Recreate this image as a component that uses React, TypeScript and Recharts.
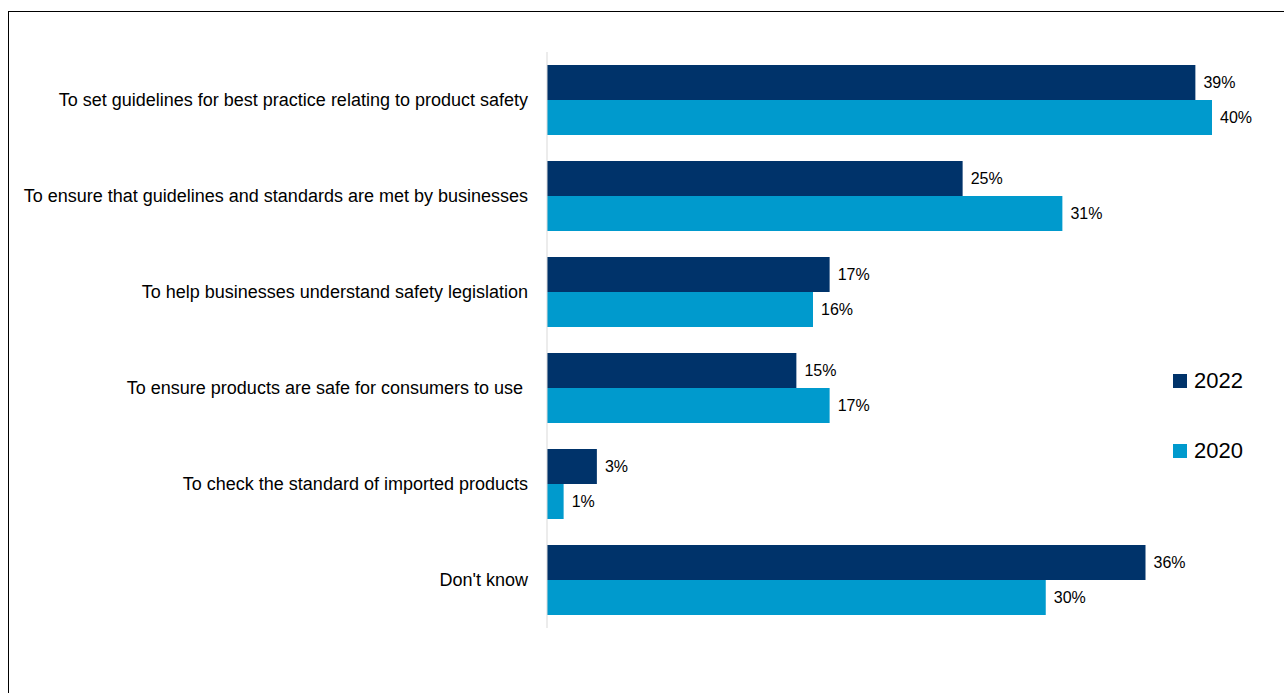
import { BarChart, Bar, XAxis, YAxis, LabelList } from "recharts";

const categories = [
  "To set guidelines for best practice relating to product safety",
  "To ensure that guidelines and standards are met by businesses",
  "To help businesses understand safety legislation",
  "To ensure products are safe for consumers to use ",
  "To check the standard of imported products",
  "Don't know",
];
const values2022 = [39, 25, 17, 15, 3, 36];
const values2020 = [40, 31, 16, 17, 1, 30];

const SERIES = [
  { key: "y2022", label: "2022", color: "#00336A" },
  { key: "y2020", label: "2020", color: "#009ACD" },
];

const FONT = "'Liberation Sans', Arial, sans-serif";

const data = categories.map((name, i) => ({
  name,
  y2022: values2022[i],
  y2020: values2020[i],
}));

function CategoryTick({ x, y, payload }: any) {
  return (
    <text
      x={x - 11}
      y={y}
      dy={6}
      textAnchor="end"
      fill="#000"
      fontSize={18}
      fontFamily={FONT}
      style={{ whiteSpace: "pre" }}
    >
      {payload.value}
    </text>
  );
}

function YearLegend() {
  return (
    <div style={{ position: "absolute", left: 1173, top: 368, fontFamily: FONT }}>
      {SERIES.map((s, i) => (
        <div
          key={s.key}
          style={{
            display: "flex",
            alignItems: "center",
            height: 26,
            marginBottom: i === 0 ? 44 : 0,
          }}
        >
          <span
            style={{ width: 14, height: 14, background: s.color, marginRight: 7 }}
          />
          <span style={{ fontSize: 22, color: "#000" }}>{s.label}</span>
        </div>
      ))}
    </div>
  );
}

export default function App() {
  return (
    <div
      style={{
        position: "fixed",
        left: 0,
        top: 0,
        width: 1284,
        height: 693,
        background: "#fff",
        overflow: "hidden",
      }}
    >
      <div
        style={{
          position: "absolute",
          left: 8,
          top: 11,
          width: 1400,
          height: 800,
          border: "1.5px solid #000",
        }}
      />
      <div style={{ position: "absolute", left: 0, top: 0 }}>
        <BarChart
          width={1284}
          height={693}
          data={data}
          layout="vertical"
          margin={{ top: 52, right: 72, bottom: 65, left: 0 }}
          barCategoryGap={13}
          barGap={0}
        >
          <XAxis type="number" domain={[0, 40]} hide />
          <YAxis
            type="category"
            dataKey="name"
            width={547}
            axisLine={{ stroke: "#d9d9d9" }}
            tickLine={false}
            tick={<CategoryTick />}
            interval={0}
          />
          {SERIES.map((s) => (
            <Bar
              key={s.key}
              dataKey={s.key}
              fill={s.color}
              isAnimationActive={false}
            >
              <LabelList
                dataKey={s.key}
                position="right"
                offset={8}
                formatter={(v: any) => `${v}%`}
                fill="#000"
                fontSize={16}
                fontFamily={FONT}
              />
            </Bar>
          ))}
        </BarChart>
      </div>
      <YearLegend />
    </div>
  );
}
